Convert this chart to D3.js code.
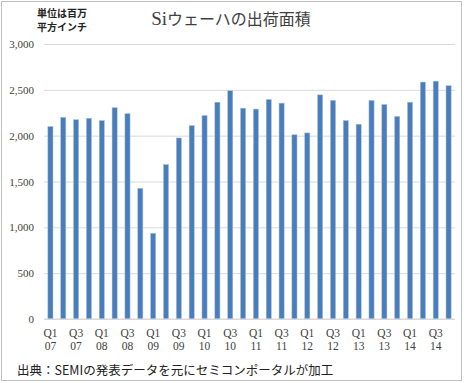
<!DOCTYPE html>
<html><head><meta charset="utf-8">
<script src="https://cdn.jsdelivr.net/npm/d3@7"></script>
<style>body{margin:0;background:#fff}</style>
</head><body>
<script>
const categories = ["Q1 07","Q2 07","Q3 07","Q4 07","Q1 08","Q2 08","Q3 08","Q4 08",
"Q1 09","Q2 09","Q3 09","Q4 09","Q1 10","Q2 10","Q3 10","Q4 10",
"Q1 11","Q2 11","Q3 11","Q4 11","Q1 12","Q2 12","Q3 12","Q4 12",
"Q1 13","Q2 13","Q3 13","Q4 13","Q1 14","Q2 14","Q3 14","Q4 14"];
const values = [2100,2200,2175,2190,2165,2305,2240,1425,
935,1685,1975,2110,2220,2365,2490,2300,
2290,2395,2355,2010,2030,2445,2385,2165,
2125,2385,2340,2210,2365,2585,2595,2545];
const yTicks = [0,500,1000,1500,2000,2500,3000];
const titleLatin = "Si";
const titleRest = "ウェーハの出荷面積";
const unitLines = ["単位は百万","平方インチ"];
const source = "出典：SEMIの発表データを元にセミコンポータルが加工";

const W = 467, H = 383;
const svg = d3.select("body").append("svg").attr("width", W).attr("height", H);
svg.append("rect").attr("x",1.5).attr("y",1.5).attr("width",460).attr("height",379)
  .attr("fill","#fff").attr("stroke","#bfbfbf").attr("stroke-width",1);

const m = {left:44, right:455, top:44, bottom:319};
const x = d3.scaleBand().domain(categories).range([m.left, m.right]).paddingInner(0.6).paddingOuter(0.3);
const y = d3.scaleLinear().domain([0,3000]).range([m.bottom, m.top]);

const serif = "Liberation Serif, DejaVu Serif, serif";
const jp = "Noto Sans CJK JP, sans-serif";

// grid
const ya = d3.axisLeft(y).tickValues(yTicks).tickSize(-(m.right-m.left)).tickFormat(d3.format(","));
const gy = svg.append("g").attr("transform",`translate(${m.left},0)`).call(ya);
gy.select(".domain").remove();
gy.selectAll(".tick line").attr("stroke","#d9d9d9").attr("stroke-width",1);
gy.selectAll(".tick text").attr("x",-10).attr("fill","#404040")
  .style("font-family",serif).style("font-size","11px");

// bars
svg.append("g").selectAll("rect").data(values).join("rect")
  .attr("x",(d,i)=>x(categories[i]))
  .attr("width",x.bandwidth())
  .attr("y",d=>y(d))
  .attr("height",d=>y(0)-y(d))
  .attr("fill","#4a7ebb")
  .attr("stroke","#a9c1e3").attr("stroke-width",0.5);

// baseline
svg.append("line").attr("x1",m.left).attr("x2",m.right).attr("y1",y(0)).attr("y2",y(0))
  .attr("stroke","#d9d9d9");

// x labels every other
const xa = d3.axisBottom(x).tickValues(categories.filter((d,i)=>i%2===0)).tickSize(0).tickFormat("");
const gx = svg.append("g").attr("transform",`translate(0,${m.bottom})`).call(xa);
gx.select(".domain").remove();
gx.selectAll(".tick").each(function(d){
  const parts = d.split(" ");
  const t = d3.select(this).append("text").attr("fill","#404040")
    .attr("text-anchor","middle").style("font-family",serif).style("font-size","11.5px");
  t.append("tspan").attr("x",0).attr("y",18).text(parts[0]);
  t.append("tspan").attr("x",0).attr("y",31).text(parts[1]);
});

// title
const tt = svg.append("text").attr("x",231).attr("y",25).attr("text-anchor","middle")
  .attr("fill","#404040");
tt.append("tspan").style("font-family",serif).style("font-size","19px").text(titleLatin);
tt.append("tspan").style("font-family",jp).style("font-size","16px").text(titleRest);

// unit
unitLines.forEach((s,i)=>{
  svg.append("text").attr("x",37).attr("y",17+i*14).attr("fill","#222")
    .style("font-family",jp).style("font-size","10px").style("font-weight","bold").text(s);
});

// source
svg.append("text").attr("x",17).attr("y",375).attr("fill","#222")
  .style("font-family",jp).style("font-size","12.5px").text(source);
</script>
</body></html>
